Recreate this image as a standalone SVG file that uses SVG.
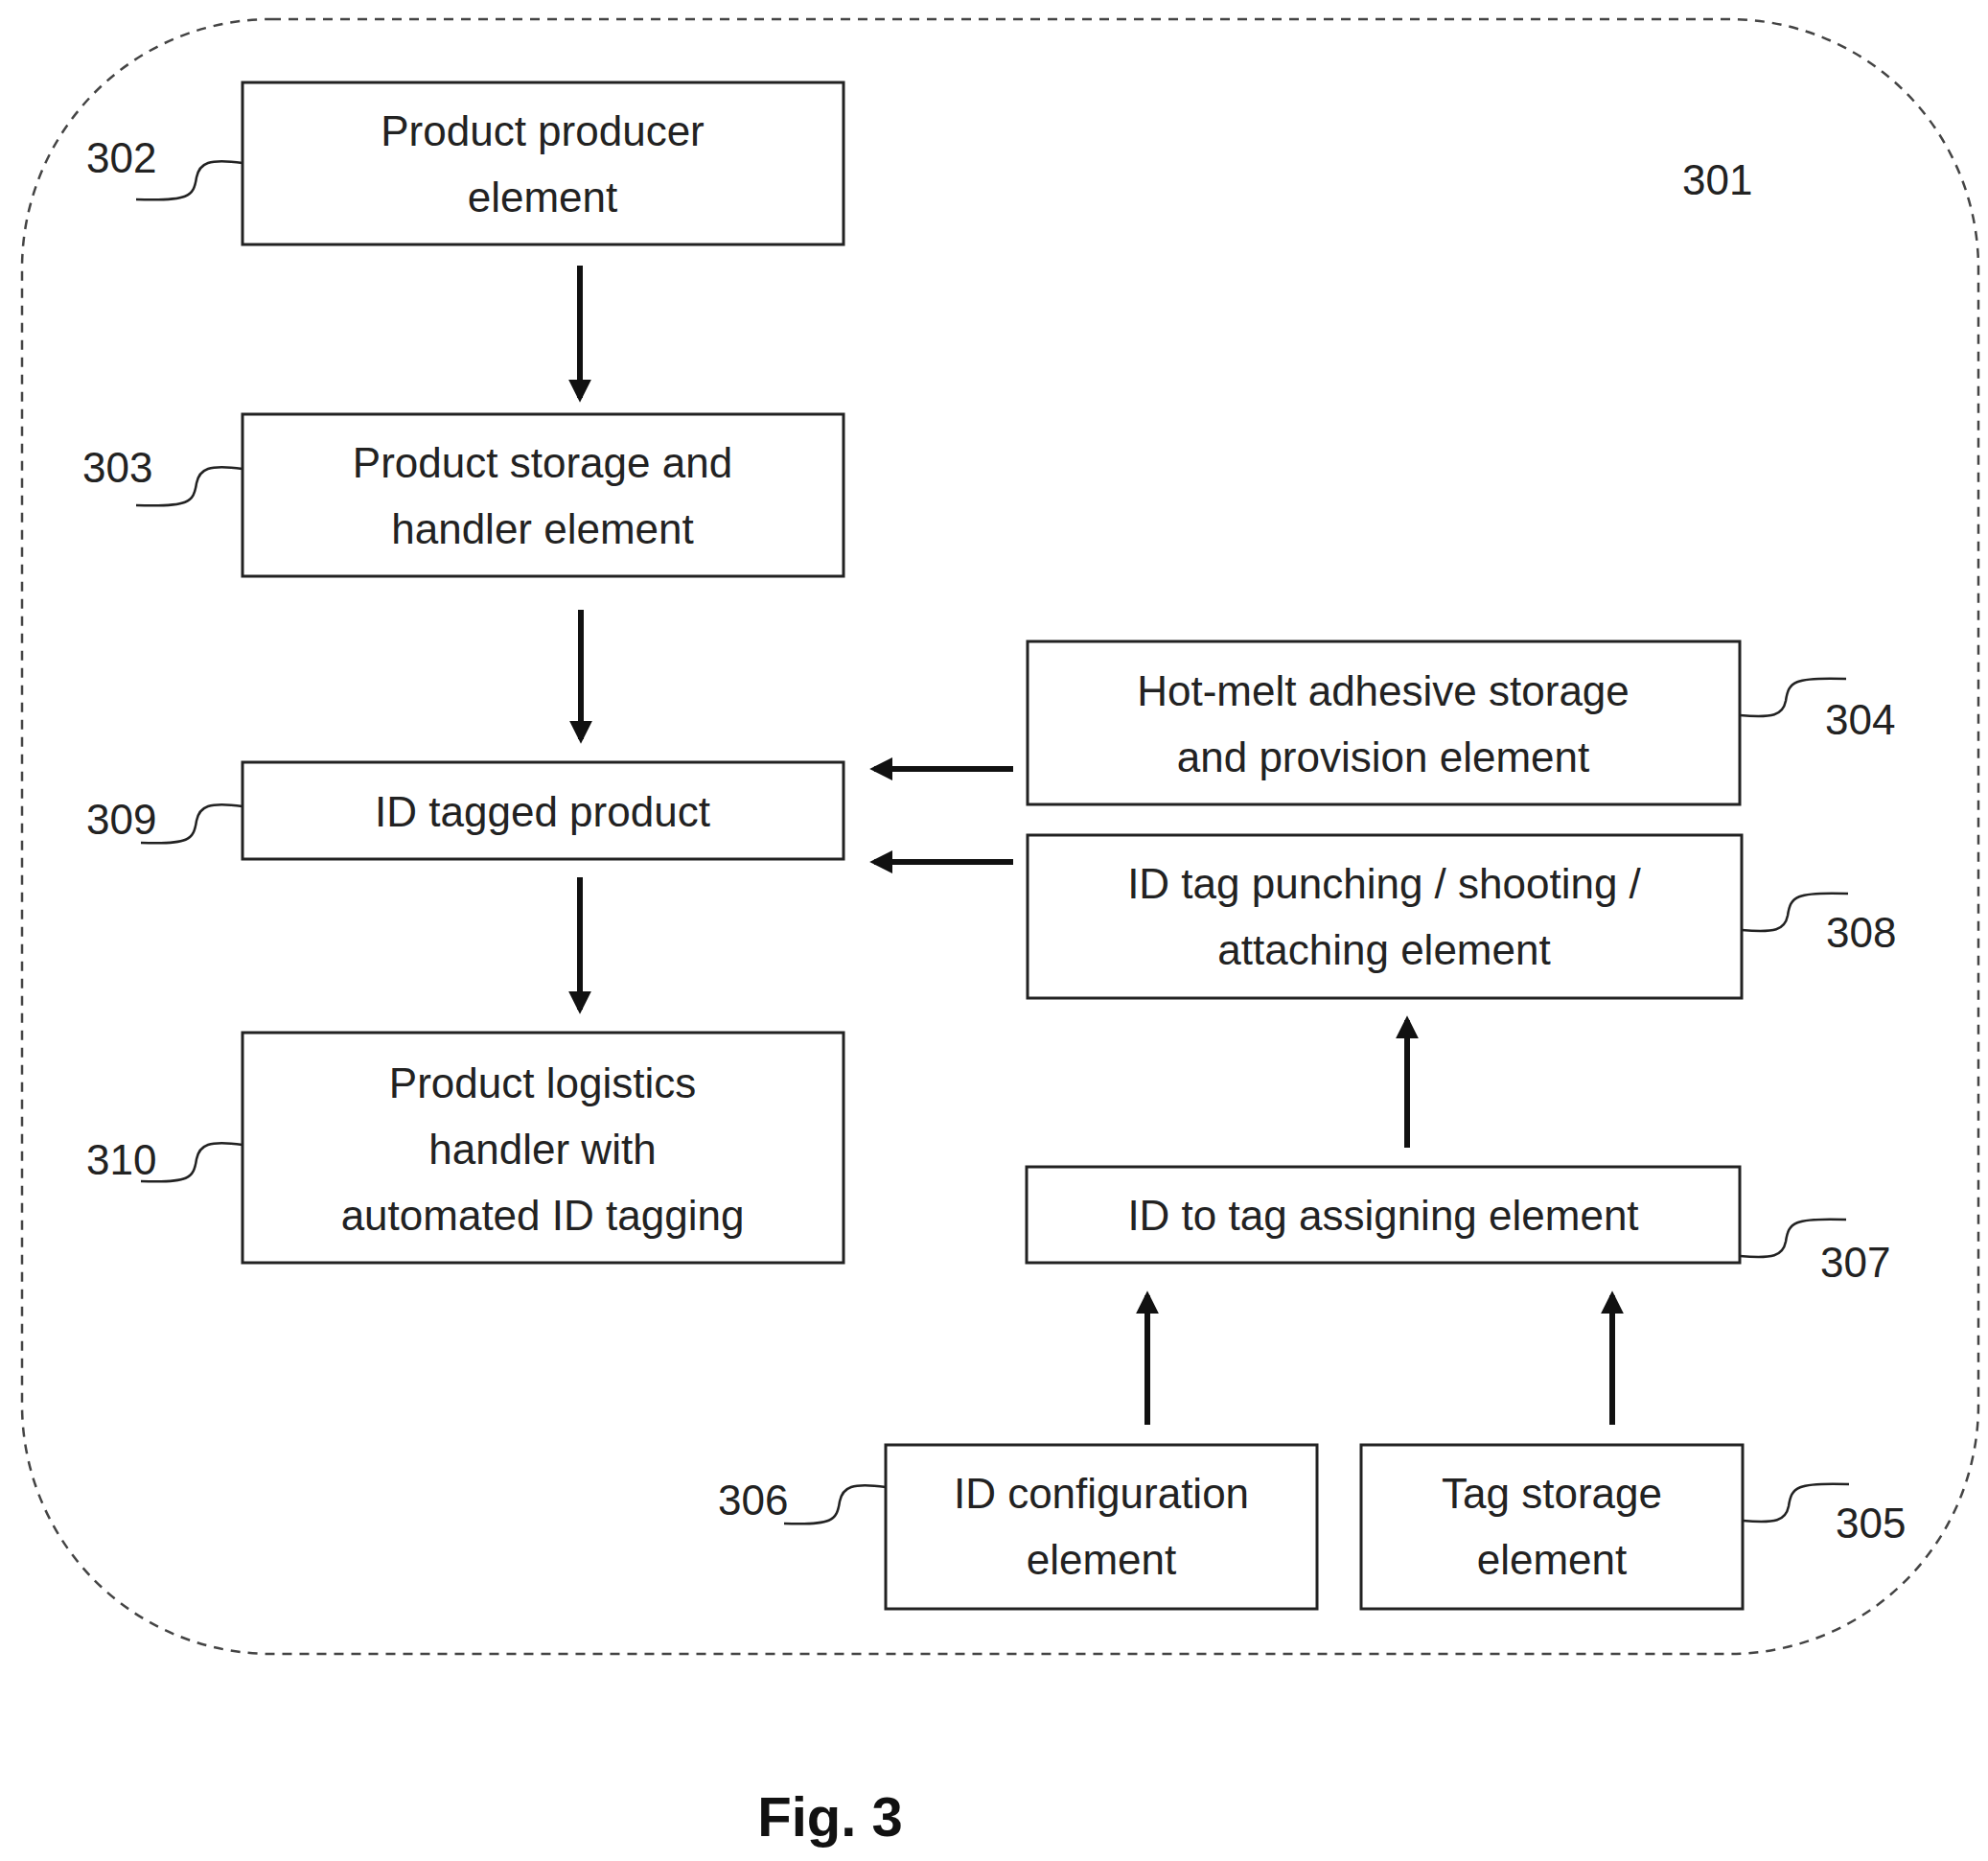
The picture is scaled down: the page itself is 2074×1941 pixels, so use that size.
<svg xmlns="http://www.w3.org/2000/svg" width="2074" height="1941" viewBox="0 0 2074 1941">
<defs>
<style>
.box{fill:#fff;stroke:#222;stroke-width:3}
.t{font-family:"Liberation Sans",Arial,sans-serif;font-size:44px;fill:#222;text-anchor:middle}
.n{font-family:"Liberation Sans",Arial,sans-serif;font-size:44px;fill:#222}
.ld{fill:none;stroke:#222;stroke-width:2.5}
.ar{stroke:#111;stroke-width:6;marker-end:url(#ah)}
</style>
<marker id="ah" viewBox="0 0 10 10" refX="8" refY="5" markerWidth="4" markerHeight="4" orient="auto"><path d="M0,0 L10,5 L0,10 Z" fill="#111"/></marker>
</defs>
<rect width="2074" height="1941" fill="#fff"/>
<rect x="23" y="20" width="2041" height="1705" rx="260" fill="none" stroke="#444" stroke-width="2.5" stroke-dasharray="10,8"/>
<text class="n" x="1755" y="203">301</text>
<g id="n302"><rect class="box" x="253" y="86" width="627" height="169"/><text class="t" x="566" y="152">Product producer</text><text class="t" x="566" y="221">element</text><path class="ld" d="M253,170 c-35,-5 -45,0 -48,15 c-3,20 -8,25 -63,23"/><text class="n" x="90" y="180">302</text></g>
<g id="n303"><rect class="box" x="253" y="432" width="627" height="169"/><text class="t" x="566" y="498">Product storage and</text><text class="t" x="566" y="567">handler element</text><path class="ld" d="M253,489 c-35,-5 -45,0 -48,15 c-3,20 -8,25 -63,23"/><text class="n" x="86" y="503">303</text></g>
<g id="n309"><rect class="box" x="253" y="795" width="627" height="101"/><text class="t" x="566" y="862">ID tagged product</text><path class="ld" d="M253,841 c-35,-5 -45,0 -48,15 c-3,20 -8,25 -58,23"/><text class="n" x="90" y="870">309</text></g>
<g id="n310"><rect class="box" x="253" y="1077" width="627" height="240"/><text class="t" x="566" y="1145">Product logistics</text><text class="t" x="566" y="1214">handler with</text><text class="t" x="566" y="1283">automated ID tagging</text><path class="ld" d="M253,1194 c-35,-5 -45,0 -48,15 c-3,20 -8,25 -58,23"/><text class="n" x="90" y="1225">310</text></g>
<g id="n304"><rect class="box" x="1072" y="669" width="743" height="170"/><text class="t" x="1443" y="736">Hot-melt adhesive storage</text><text class="t" x="1443" y="805">and provision element</text><path class="ld" d="M1815,746 c35,3 45,0 48,-15 c3,-20 8,-25 63,-23"/><text class="n" x="1904" y="766">304</text></g>
<g id="n308"><rect class="box" x="1072" y="871" width="745" height="170"/><text class="t" x="1444" y="937">ID tag punching / shooting /</text><text class="t" x="1444" y="1006">attaching element</text><path class="ld" d="M1817,970 c35,3 45,0 48,-15 c3,-20 8,-25 63,-23"/><text class="n" x="1905" y="988">308</text></g>
<g id="n307"><rect class="box" x="1071" y="1217" width="744" height="100"/><text class="t" x="1443" y="1283">ID to tag assigning element</text><path class="ld" d="M1815,1310 c35,3 45,0 48,-15 c3,-20 8,-25 63,-23"/><text class="n" x="1899" y="1332">307</text></g>
<g id="n306"><rect class="box" x="924" y="1507" width="450" height="171"/><text class="t" x="1149" y="1573">ID configuration</text><text class="t" x="1149" y="1642">element</text><path class="ld" d="M924,1551 c-35,-5 -45,0 -48,15 c-3,20 -8,25 -58,23"/><text class="n" x="749" y="1580">306</text></g>
<g id="n305"><rect class="box" x="1420" y="1507" width="398" height="171"/><text class="t" x="1619" y="1573">Tag storage</text><text class="t" x="1619" y="1642">element</text><path class="ld" d="M1818,1586 c35,3 45,0 48,-15 c3,-20 8,-25 63,-23"/><text class="n" x="1915" y="1604">305</text></g>
<g id="connectors">
<line class="ar" x1="605" y1="277" x2="605" y2="415"/>
<line class="ar" x1="606" y1="636" x2="606" y2="771"/>
<line class="ar" x1="605" y1="915" x2="605" y2="1053"/>
<line class="ar" x1="1057" y1="802" x2="912" y2="802"/>
<line class="ar" x1="1057" y1="899" x2="912" y2="899"/>
<line class="ar" x1="1468" y1="1197" x2="1468" y2="1064"/>
<line class="ar" x1="1197" y1="1486" x2="1197" y2="1351"/>
<line class="ar" x1="1682" y1="1486" x2="1682" y2="1351"/>
</g>
<text x="866" y="1915" font-family="Liberation Sans,Arial,sans-serif" font-size="58" font-weight="bold" text-anchor="middle" fill="#111">Fig. 3</text>
</svg>
